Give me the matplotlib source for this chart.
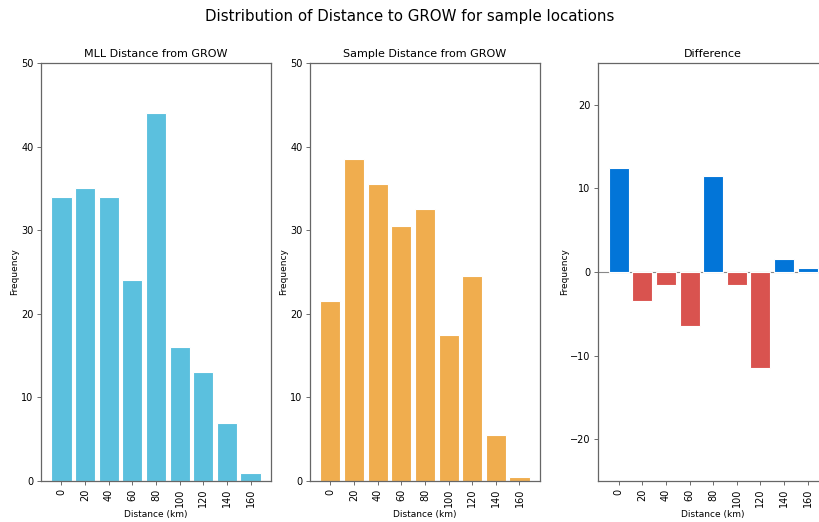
import numpy as np
import matplotlib
matplotlib.use("Agg")
import matplotlib.pyplot as plt

# -------- data --------
distance = [0, 20, 40, 60, 80, 100, 120, 140, 160]
mll_freq = [34, 35, 34, 24, 44, 16, 13, 7, 1]
sample_freq = [21.5, 38.5, 35.5, 30.5, 32.5, 17.5, 24.5, 5.5, 0.5]
diff_freq = [12.5, -3.5, -1.5, -6.5, 11.5, -1.5, -11.5, 1.5, 0.5]

blue = '#0275d8'
red = '#d9534f'
cyan = '#5bc0de'
orange = '#f0ad4e'

fig = plt.figure(figsize=(8.2, 5.22), dpi=100)
fig.suptitle("Distribution of Distance to GROW for sample locations", fontsize=10.8, y=0.983)

w, h, b = 0.2805, 0.8008, 0.0785
ax1 = fig.add_axes([0.0500, b, w, h])
ax2 = fig.add_axes([0.3780, b, w, h])
ax3 = fig.add_axes([0.7295, b, w, h])


def style(ax, title):
    ax.set_title(title, fontsize=8, pad=4)
    ax.set_xticks(distance)
    ax.set_xticklabels([str(d) for d in distance], rotation=90)
    ax.tick_params(labelsize=7, length=3, width=0.6, color='#555555', pad=2.5)
    ax.set_xlabel("Distance (km)", fontsize=6.5, labelpad=2)
    ax.set_ylabel("Frequency", fontsize=6.5, labelpad=1)
    for s in ax.spines.values():
        s.set_linewidth(0.9)
        s.set_color('#666666')


ax1.bar(distance, mll_freq, width=17, color=cyan, edgecolor='white', linewidth=0.8)
ax1.set_ylim(0, 50)
style(ax1, "MLL Distance from GROW")

ax2.bar(distance, sample_freq, width=17, color=orange, edgecolor='white', linewidth=0.8)
ax2.set_ylim(0, 50)
style(ax2, "Sample Distance from GROW")

diff_colors = [blue if v >= 0 else red for v in diff_freq]
ax3.bar(distance, diff_freq, width=17, color=diff_colors, edgecolor='white', linewidth=0.8)
ax3.axhline(0, color='#888888', linewidth=0.8, zorder=0)
ax3.set_ylim(-25, 25)
style(ax3, "Difference")

plt.savefig("out.png", dpi=100)
